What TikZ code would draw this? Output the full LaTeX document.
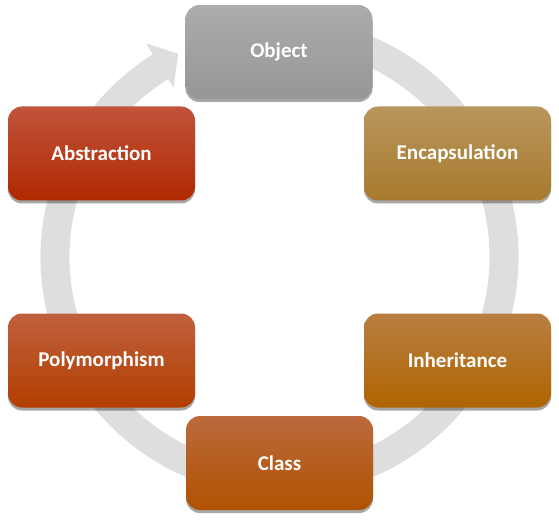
\documentclass[tikz,border=0pt]{standalone}
\usepackage{fontspec}
\setmainfont{Carlito}
\usetikzlibrary{shadows}
\definecolor{ringgray}{RGB}{222,222,222}
\tikzset{
  stage/.style={rounded corners=14pt, minimum width=187pt, minimum height=94pt,
    text=white, font=\fontsize{21}{24}\selectfont\bfseries,
    drop shadow={shadow xshift=0pt, shadow yshift=-3pt, opacity=0.35, fill=black}},
}
\begin{document}
\begin{tikzpicture}[x=1pt,y=1pt]
\useasboundingbox (0,0) rectangle (559,520);
% circular arrow running clockwise behind the stages
\begin{scope}[shift={(279.5,263)}]
  \fill[ringgray] (80:239) arc[start angle=80, end angle=-238, radius=239]
    -- (-238:252) -- (-243.5:227) -- (-238:200) -- (-238:210)
    arc[start angle=-238, end angle=80, radius=210] -- cycle;
\end{scope}
% stages
\node[stage, top color={rgb,255:red,172;green,172;blue,172}, bottom color={rgb,255:red,150;green,150;blue,150}] (object) at (279,468) {Object};
\node[stage, top color={rgb,255:red,192;green,84;blue,60}, bottom color={rgb,255:red,176;green,40;blue,0}] (abstraction) at (101.5,366.5) {Abstraction};
\node[stage, top color={rgb,255:red,184;green,150;blue,92}, bottom color={rgb,255:red,168;green,122;blue,46}] (encapsulation) at (457.5,366.5) {Encapsulation};
\node[stage, top color={rgb,255:red,192;green,96;blue,62}, bottom color={rgb,255:red,178;green,62;blue,0}] (polymorphism) at (101.5,159.5) {Polymorphism};
\node[stage, top color={rgb,255:red,186;green,126;blue,66}, bottom color={rgb,255:red,174;green,100;blue,0}] (inheritance) at (457.5,159.5) {Inheritance};
\node[stage, top color={rgb,255:red,188;green,106;blue,62}, bottom color={rgb,255:red,176;green,82;blue,0}] (class) at (279.5,57) {Class};
\end{tikzpicture}
\end{document}
